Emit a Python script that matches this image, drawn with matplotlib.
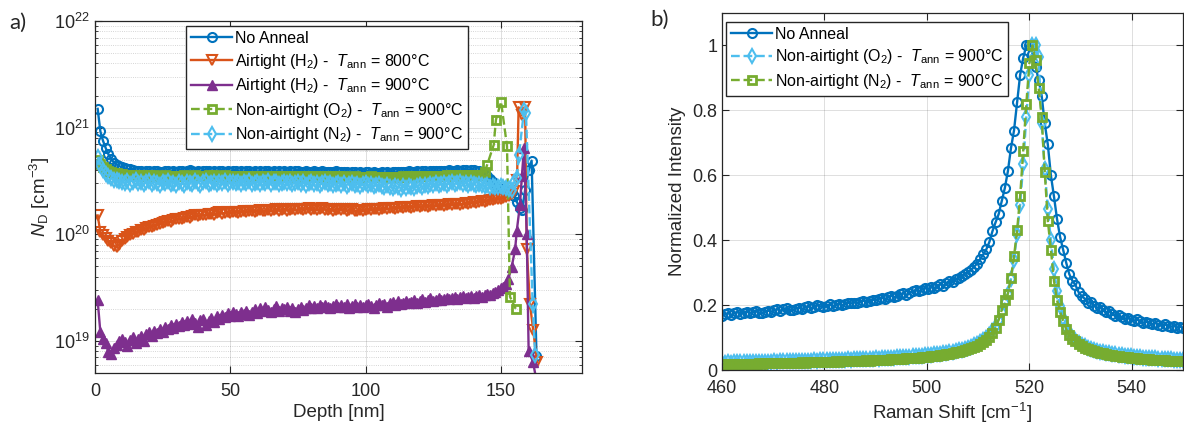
import numpy as np
import matplotlib
matplotlib.use('Agg')
import matplotlib.pyplot as plt
from matplotlib.ticker import LogLocator, NullFormatter, MultipleLocator

plt.rcParams['font.family'] = ['Liberation Sans', 'DejaVu Sans']
plt.rcParams['mathtext.fontset'] = 'custom'
plt.rcParams['mathtext.rm'] = 'Liberation Sans'
plt.rcParams['mathtext.it'] = 'Liberation Sans:italic'
plt.rcParams['mathtext.bf'] = 'Liberation Sans:bold'

# MATLAB default colour order
c_blue = '#0072BD'
c_orange = '#D95319'
c_purple = '#7E2F8E'
c_green = '#77AC30'
c_cyan = '#4DBEEE'
c_axis = '#262626'

# ---------------- a) donor concentration vs depth ----------------
# body: one point per nm from 1 to 143 nm, tails read separately
nd_none = [15.0, 9.2, 7.5, 6.4, 5.6, 5.1, 4.7, 4.5, 4.35, 4.25, 4.15, 4.1, 4.05, 4.0, 3.95,
           3.9, 3.95, 3.85, 3.88, 3.93, 3.83, 3.9, 3.96, 3.86, 3.82, 3.88, 3.92, 3.86, 3.9, 3.84, 3.88,
           3.94, 3.86, 3.91, 3.97, 3.88, 3.84, 3.92, 3.86, 3.9, 3.95, 3.88, 3.84, 3.91, 3.86, 3.93, 3.88,
           3.86, 3.92, 3.84, 3.9, 3.95, 3.86, 3.88, 3.82, 3.9, 3.94, 3.86, 3.88, 3.84, 3.92, 3.86, 3.9,
           3.88, 3.84, 3.9, 3.86, 3.92, 3.82, 3.88, 3.86, 3.9, 3.84, 3.88, 3.92, 3.86, 3.82, 3.88, 3.84,
           3.86, 3.9, 3.82, 3.86, 3.88, 3.84, 3.8, 3.86, 3.82, 3.88, 3.84, 3.8, 3.86, 3.82, 3.78, 3.84,
           3.8, 3.76, 3.82, 3.78, 3.84, 3.8, 3.76, 3.82, 3.78, 3.74, 3.8, 3.76, 3.82, 3.78, 3.84, 3.8,
           3.82, 3.86, 3.8, 3.84, 3.88, 3.82, 3.86, 3.9, 3.84, 3.88, 3.92, 3.86, 3.9, 3.94, 3.88, 3.92,
           3.96, 3.9, 3.94, 3.98, 3.92, 3.96, 4.0, 3.94, 3.98, 4.02, 3.96, 4.0, 3.98, 3.94, 3.96, 3.85]
nd_none_tail_x = [144, 145, 146, 147, 148, 149, 150, 151, 152, 153, 154, 155, 156, 157, 157.9, 159,
                  160.3, 161.4, 163.2]
nd_none_tail = [3.7, 3.5, 3.3, 3.1, 2.9, 2.75, 2.65, 2.6, 2.55, 2.6, 2.5, 2.3, 2.0, 1.75, 1.7, 2.6,
                4.0, 4.9, 0.072]

nd_h800 = [1.5, 1.05, 0.98, 0.92, 0.86, 0.82, 0.78, 0.76, 0.8, 0.86,
           0.9, 0.95, 0.98, 1.0, 1.04, 1.06, 1.09, 1.1, 1.14, 1.16,
           1.18, 1.2, 1.22, 1.26, 1.28, 1.3, 1.32, 1.31, 1.35, 1.38,
           1.4, 1.38, 1.42, 1.45, 1.43, 1.47, 1.5, 1.48, 1.51, 1.53,
           1.5, 1.54, 1.56, 1.52, 1.57, 1.6, 1.56, 1.59, 1.62, 1.58,
           1.6, 1.63, 1.59, 1.62, 1.65, 1.61, 1.64, 1.67, 1.63, 1.66,
           1.68, 1.64, 1.66, 1.7, 1.65, 1.68, 1.71, 1.66, 1.69, 1.72,
           1.67, 1.7, 1.73, 1.68, 1.71, 1.74, 1.69, 1.72, 1.75, 1.7,
           1.73, 1.69, 1.72, 1.75, 1.7, 1.68, 1.72, 1.66, 1.7, 1.73,
           1.68, 1.71, 1.66, 1.69, 1.72, 1.67, 1.64, 1.7, 1.66, 1.69,
           1.72, 1.68, 1.71, 1.74, 1.7, 1.73, 1.76, 1.72, 1.75, 1.78,
           1.74, 1.77, 1.8, 1.76, 1.79, 1.82, 1.78, 1.81, 1.84, 1.8,
           1.83, 1.86, 1.82, 1.85, 1.88, 1.84, 1.87, 1.9, 1.86, 1.89,
           1.92, 1.88, 1.91, 1.94, 1.9, 1.93, 1.96, 1.93, 1.97, 2.0,
           1.97, 2.01, 2.04]
nd_h800_tail_x = [144, 145, 146, 147, 148, 149, 150, 151, 152, 153, 154, 155, 156, 156.6, 157.8,
                  159.0, 159.6, 160.8, 162.0, 163.4]
nd_h800_tail = [2.02, 2.06, 2.1, 2.08, 2.12, 2.16, 2.15, 2.2, 2.25, 2.3, 2.4, 2.55, 3.2, 15.5, 13.0,
                15.5, 0.72, 0.22, 0.126, 0.063]

# purple series in units of 1e19
nd_h900 = [2.4, 1.2, 1.05, 0.95, 0.78, 0.76, 0.85, 0.92, 1.0, 1.05,
           0.98, 0.9, 1.02, 1.08, 0.95, 1.05, 1.12, 1.0, 1.15, 1.22,
           1.1, 1.25, 1.18, 1.3, 1.22, 1.35, 1.28, 1.4, 1.32, 1.45,
           1.38, 1.5, 1.4, 1.55, 1.45, 1.6, 1.48, 1.35, 1.58, 1.62,
           1.42, 1.55, 1.65, 1.5, 1.7, 1.6, 1.75, 1.68, 1.82, 1.72,
           1.85, 1.78, 1.7, 1.88, 1.8, 1.92, 1.76, 1.85, 1.98, 1.82,
           2.05, 1.9, 2.1, 1.95, 1.85, 2.0, 2.12, 1.92, 2.05, 1.98,
           2.08, 1.92, 2.02, 1.88, 2.0, 2.1, 1.95, 2.05, 2.15, 2.02,
           2.12, 2.05, 2.18, 2.08, 2.15, 2.1, 2.02, 2.14, 2.2, 2.08,
           2.16, 2.1, 2.2, 2.05, 2.14, 2.22, 2.1, 2.18, 2.06, 2.15,
           2.2, 2.12, 2.05, 2.18, 2.28, 2.15, 2.22, 2.1, 2.25, 2.3,
           2.18, 2.35, 2.2, 2.28, 2.38, 2.25, 2.32, 2.4, 2.28, 2.36,
           2.45, 2.32, 2.4, 2.5, 2.36, 2.44, 2.52, 2.4, 2.48, 2.55,
           2.45, 2.52, 2.6, 2.48, 2.56, 2.62, 2.5, 2.58, 2.66, 2.55,
           2.62, 2.7, 2.6]
nd_h900_tail_x = [144, 145, 146, 147, 148, 149, 150, 151, 152, 152.8, 154, 155.3, 155.9, 157.1,
                  157.8, 158.6, 159.6, 160.3, 161.9, 163.0]
nd_h900_tail = [2.68, 2.75, 2.72, 2.8, 2.9, 3.0, 3.1, 3.2, 3.4, 3.8, 4.9, 7.2, 10.7, 19.0,
                35.0, 65.0, 10.0, 0.8, 0.64, 0.45]

nd_o2 = [5.0, 4.6, 4.3, 4.1, 3.95, 3.85, 3.78, 3.72, 3.68, 3.65,
         3.62, 3.6, 3.57, 3.6, 3.55, 3.58, 3.54, 3.57, 3.52, 3.56,
         3.53, 3.57, 3.5, 3.55, 3.52, 3.56, 3.5, 3.54, 3.51, 3.55,
         3.5, 3.54, 3.58, 3.52, 3.55, 3.5, 3.56, 3.52, 3.55, 3.5,
         3.54, 3.58, 3.52, 3.56, 3.5, 3.55, 3.52, 3.56, 3.5, 3.54,
         3.51, 3.55, 3.5, 3.54, 3.48, 3.53, 3.5, 3.55, 3.49, 3.53,
         3.5, 3.54, 3.48, 3.52, 3.5, 3.55, 3.49, 3.53, 3.47, 3.52,
         3.49, 3.53, 3.47, 3.51, 3.48, 3.52, 3.46, 3.5, 3.47, 3.51,
         3.45, 3.5, 3.47, 3.51, 3.45, 3.49, 3.46, 3.5, 3.44, 3.48,
         3.45, 3.49, 3.43, 3.47, 3.44, 3.48, 3.42, 3.46, 3.43, 3.47,
         3.44, 3.48, 3.42, 3.46, 3.43, 3.47, 3.41, 3.45, 3.42, 3.46,
         3.43, 3.47, 3.44, 3.48, 3.45, 3.49, 3.46, 3.5, 3.47, 3.51,
         3.48, 3.52, 3.49, 3.53, 3.5, 3.54, 3.51, 3.55, 3.52, 3.56,
         3.53, 3.57, 3.54, 3.58, 3.55, 3.59, 3.56, 3.6, 3.57, 3.6,
         3.58, 3.62, 3.6]
nd_o2_tail_x = [144, 145, 147.4, 148.2, 150.1, 152.3, 153.4, 155.5]
nd_o2_tail = [3.8, 4.5, 6.9, 11.8, 17.5, 6.7, 0.26, 0.20]

nd_n2 = [5.3, 4.5, 4.0, 3.7, 3.5, 3.35, 3.25, 3.2, 3.15, 3.1,
         3.05, 3.15, 2.98, 3.1, 3.2, 3.0, 3.12, 2.95, 3.08, 3.18,
         2.98, 3.1, 3.02, 2.92, 3.12, 3.0, 3.15, 2.95, 3.05, 2.9,
         3.1, 3.0, 2.92, 3.12, 3.02, 2.95, 3.15, 3.0, 2.9, 3.08,
         3.15, 2.98, 3.05, 3.12, 2.95, 3.08, 3.0, 3.14, 2.96, 3.06,
         3.12, 3.0, 3.08, 2.95, 3.1, 3.02, 3.15, 2.98, 3.05, 3.12,
         2.98, 3.08, 3.0, 3.14, 2.96, 3.06, 3.1, 2.95, 3.04, 3.12,
         3.0, 3.08, 2.94, 3.05, 3.12, 2.98, 3.06, 2.92, 3.02, 3.1,
         2.96, 3.04, 2.9, 3.0, 3.08, 2.94, 3.02, 2.88, 2.98, 3.05,
         2.92, 3.0, 2.86, 2.96, 3.04, 2.9, 2.98, 2.84, 2.94, 3.0,
         2.88, 2.96, 2.82, 2.92, 2.98, 2.85, 2.76, 2.9, 2.8, 2.72,
         2.85, 2.75, 2.68, 2.82, 2.74, 2.86, 2.78, 2.7, 2.84, 2.9,
         2.8, 2.92, 2.86, 2.96, 2.88, 3.0, 2.9, 2.98, 3.04, 2.92,
         3.0, 3.06, 2.94, 3.02, 3.08, 2.96, 3.04, 2.9, 3.0, 2.96,
         2.92, 2.98, 2.9]
nd_n2_tail_x = [144, 145, 146, 147, 148, 149, 150, 151, 152, 153, 154, 155, 155.9, 156.7, 158.6,
                159.3, 161.8, 162.7]
nd_n2_tail = [2.85, 2.9, 2.8, 2.85, 2.75, 2.8, 2.85, 2.75, 2.7, 2.65, 2.6, 3.1, 3.4, 5.5, 14.5,
              13.8, 0.22, 0.074]

# ---------------- b) Raman spectra ----------------
raman_x = np.linspace(460, 550, 151)
ram_none = [0.165, 0.172, 0.175, 0.170, 0.176, 0.178, 0.174, 0.177, 0.180, 0.176,
            0.178, 0.181, 0.177, 0.175, 0.179, 0.183, 0.180, 0.184, 0.187, 0.183,
            0.188, 0.191, 0.186, 0.184, 0.189, 0.192, 0.188, 0.193, 0.196, 0.191,
            0.195, 0.199, 0.196, 0.193, 0.198, 0.202, 0.197, 0.200, 0.204, 0.199,
            0.203, 0.207, 0.205, 0.208, 0.206, 0.210, 0.214, 0.209, 0.213, 0.217,
            0.215, 0.219, 0.223, 0.218, 0.225, 0.229, 0.224, 0.228, 0.233, 0.236,
            0.232, 0.238, 0.243, 0.246, 0.242, 0.248, 0.252, 0.250, 0.255, 0.252,
            0.259, 0.264, 0.260, 0.268, 0.275, 0.271, 0.280, 0.284, 0.290, 0.297,
            0.302, 0.308, 0.318, 0.328, 0.342, 0.356, 0.372, 0.395, 0.428, 0.455,
            0.480, 0.520, 0.560, 0.612, 0.683, 0.738, 0.825, 0.910, 0.962, 1.000,
            1.000, 0.975, 0.935, 0.895, 0.845, 0.760, 0.695, 0.600, 0.535, 0.465,
            0.410, 0.370, 0.330, 0.295, 0.275, 0.262, 0.240, 0.228, 0.220, 0.206,
            0.210, 0.198, 0.192, 0.195, 0.184, 0.178, 0.182, 0.172, 0.166, 0.170,
            0.162, 0.158, 0.161, 0.155, 0.152, 0.156, 0.150, 0.146, 0.149, 0.144,
            0.141, 0.145, 0.140, 0.137, 0.141, 0.136, 0.133, 0.137, 0.131, 0.134, 0.130]
ram_o2 = [0.023, 0.023, 0.024, 0.023, 0.024, 0.024, 0.024, 0.025, 0.024, 0.025,
          0.025, 0.025, 0.026, 0.025, 0.026, 0.026, 0.026, 0.027, 0.026, 0.027,
          0.027, 0.027, 0.028, 0.027, 0.028, 0.028, 0.029, 0.028, 0.029, 0.029,
          0.030, 0.029, 0.030, 0.030, 0.031, 0.030, 0.031, 0.032, 0.031, 0.032,
          0.032, 0.033, 0.032, 0.033, 0.034, 0.033, 0.034, 0.035, 0.034, 0.035,
          0.036, 0.035, 0.036, 0.037, 0.037, 0.038, 0.038, 0.039, 0.039, 0.040,
          0.041, 0.041, 0.042, 0.043, 0.043, 0.044, 0.045, 0.046, 0.047, 0.048,
          0.049, 0.050, 0.052, 0.053, 0.055, 0.057, 0.059, 0.061, 0.063, 0.066,
          0.069, 0.072, 0.076, 0.080, 0.085, 0.091, 0.098, 0.107, 0.120, 0.135,
          0.155, 0.180, 0.205, 0.235, 0.280, 0.340, 0.420, 0.510, 0.635, 0.780,
          0.910, 1.000, 1.000, 0.965, 0.760, 0.620, 0.495, 0.400, 0.310, 0.245,
          0.198, 0.160, 0.132, 0.113, 0.101, 0.092, 0.084, 0.078, 0.073, 0.069,
          0.065, 0.062, 0.059, 0.057, 0.055, 0.053, 0.051, 0.049, 0.048, 0.046,
          0.045, 0.044, 0.043, 0.042, 0.041, 0.040, 0.039, 0.038, 0.038, 0.037,
          0.036, 0.036, 0.035, 0.034, 0.034, 0.033, 0.033, 0.032, 0.032, 0.031, 0.031]
ram_n2 = [0.018, 0.018, 0.019, 0.018, 0.019, 0.019, 0.019, 0.020, 0.019, 0.020,
          0.020, 0.020, 0.021, 0.020, 0.021, 0.021, 0.021, 0.022, 0.021, 0.022,
          0.022, 0.022, 0.023, 0.022, 0.023, 0.023, 0.024, 0.023, 0.024, 0.024,
          0.025, 0.024, 0.025, 0.025, 0.026, 0.025, 0.026, 0.027, 0.026, 0.027,
          0.027, 0.028, 0.027, 0.028, 0.029, 0.028, 0.029, 0.030, 0.029, 0.030,
          0.031, 0.030, 0.031, 0.032, 0.032, 0.033, 0.033, 0.034, 0.034, 0.035,
          0.036, 0.036, 0.037, 0.038, 0.038, 0.039, 0.040, 0.041, 0.042, 0.043,
          0.044, 0.045, 0.047, 0.048, 0.050, 0.052, 0.054, 0.056, 0.058, 0.061,
          0.064, 0.067, 0.071, 0.075, 0.080, 0.086, 0.093, 0.102, 0.115, 0.130,
          0.155, 0.185, 0.215, 0.235, 0.285, 0.350, 0.430, 0.535, 0.675, 0.820,
          0.945, 1.000, 0.955, 0.870, 0.780, 0.610, 0.460, 0.370, 0.275, 0.215,
          0.180, 0.150, 0.125, 0.108, 0.097, 0.088, 0.080, 0.074, 0.069, 0.065,
          0.061, 0.058, 0.055, 0.053, 0.051, 0.049, 0.047, 0.045, 0.044, 0.042,
          0.041, 0.040, 0.039, 0.038, 0.037, 0.036, 0.035, 0.034, 0.034, 0.033,
          0.032, 0.032, 0.031, 0.030, 0.030, 0.029, 0.029, 0.028, 0.028, 0.027, 0.027]


def series(body, tail_x, tail, unit):
    x = np.concatenate([np.arange(1, len(body) + 1), tail_x])
    y = np.concatenate([body, tail]) * unit
    return x, y


lab_none = 'No Anneal'
lab_800 = r'Airtight (H$_2$) -  $T_\mathrm{ann}$ = 800°C'
lab_900 = r'Airtight (H$_2$) -  $T_\mathrm{ann}$ = 900°C'
lab_o2 = r'Non-airtight (O$_2$) -  $T_\mathrm{ann}$ = 900°C'
lab_n2 = r'Non-airtight (N$_2$) -  $T_\mathrm{ann}$ = 900°C'

fig = plt.figure(figsize=(11.84, 4.30), dpi=100)
ax1 = fig.add_axes([0.0802, 0.1326, 0.4113, 0.8186])
ax2 = fig.add_axes([0.6098, 0.1395, 0.3894, 0.8302])

ms = 6.5
lw = 1.7
mw = 1.5
x, y = series(nd_none, nd_none_tail_x, nd_none_tail, 1e20)
ax1.plot(x, y, '-', color=c_blue, lw=lw, marker='o', ms=ms, mfc='none', mew=mw, label=lab_none)
x, y = series(nd_h800, nd_h800_tail_x, nd_h800_tail, 1e20)
ax1.plot(x, y, '-', color=c_orange, lw=lw, marker='v', ms=ms + 1, mfc='none', mew=mw, label=lab_800)
x, y = series(nd_h900, nd_h900_tail_x, nd_h900_tail, 1e19)
ax1.plot(x, y, '-', color=c_purple, lw=lw, marker='^', ms=ms + 1, mfc=c_purple, mew=1.0, label=lab_900)
x, y = series(nd_o2, nd_o2_tail_x, nd_o2_tail, 1e20)
ax1.plot(x, y, '--', color=c_green, lw=lw, marker='s', ms=ms - 1, mfc='none', mew=2.0, label=lab_o2)
x, y = series(nd_n2, nd_n2_tail_x, nd_n2_tail, 1e20)
ax1.plot(x, y, '--', color=c_cyan, lw=lw, marker='d', ms=ms + 1, mfc='none', mew=mw, label=lab_n2)

ax1.set_yscale('log')
ax1.set_xlim(0, 180)
ax1.set_ylim(5e18, 1e22)
ax1.xaxis.set_major_locator(MultipleLocator(50))
ax1.yaxis.set_major_locator(LogLocator(base=10, numticks=10))
ax1.yaxis.set_minor_locator(LogLocator(base=10, subs=np.arange(2, 10), numticks=20))
ax1.yaxis.set_minor_formatter(NullFormatter())
ax1.set_xlabel('Depth [nm]', fontsize=13.5, color=c_axis, labelpad=3)
ax1.set_ylabel(r'$N_\mathrm{D}$ [cm$^{-3}$]', fontsize=13.5, color=c_axis, labelpad=2)
ax1.grid(which='major', color=c_axis, alpha=0.15, lw=0.7)
ax1.grid(which='minor', axis='y', color=c_axis, alpha=0.25, lw=0.6, ls=':')
ax1.legend(loc='upper left', bbox_to_anchor=(0.187, 0.985), fontsize=11.5, handlelength=2.6,
           handletextpad=0.15, borderaxespad=0, labelspacing=0.35, borderpad=0.3,
           fancybox=False, edgecolor=c_axis, framealpha=1, numpoints=1)

ax2.plot(raman_x, ram_none, '-', color=c_blue, lw=lw, marker='o', ms=ms, mfc='none', mew=mw, label=lab_none)
ax2.plot(raman_x, ram_o2, '--', color=c_cyan, lw=lw, marker='d', ms=ms + 1, mfc='none', mew=mw, label=lab_o2)
ax2.plot(raman_x, ram_n2, '--', color=c_green, lw=lw, marker='s', ms=ms - 1, mfc='none', mew=2.0, label=lab_n2)
ax2.set_xlim(460, 550)
ax2.set_ylim(0, 1.1)
ax2.xaxis.set_major_locator(MultipleLocator(20))
ax2.set_yticks([0, 0.2, 0.4, 0.6, 0.8, 1.0])
ax2.set_yticklabels(['0', '0.2', '0.4', '0.6', '0.8', '1'])
ax2.set_xlabel(r'Raman Shift [cm$^{-1}$]', fontsize=13.5, color=c_axis, labelpad=3)
ax2.set_ylabel('Normalized Intensity', fontsize=13.5, color=c_axis)
ax2.grid(which='major', color=c_axis, alpha=0.15, lw=0.7)
ax2.legend(loc='upper left', bbox_to_anchor=(0.009, 0.975), fontsize=11.5, handlelength=2.6,
           handletextpad=0.15, borderaxespad=0, labelspacing=0.35, borderpad=0.3,
           fancybox=False, edgecolor=c_axis, framealpha=1, numpoints=1)

for ax in (ax1, ax2):
    ax.set_axisbelow(True)
    ax.tick_params(which='both', direction='in', top=True, right=True, colors=c_axis,
                   labelsize=13)
    ax.tick_params(which='major', length=5, width=0.8)
    ax.tick_params(which='minor', length=2.5, width=0.6)
    ax.tick_params(axis='x', which='major', pad=7)
    for s in ax.spines.values():
        s.set_color(c_axis)
        s.set_linewidth(0.9)

fig.text(0.008, 0.948, 'a)', fontsize=16, family='Lato', color=c_axis, va='center')
fig.text(0.549, 0.953, 'b)', fontsize=16, family='Lato', color=c_axis, va='center')

fig.savefig('out.png', dpi=100)
